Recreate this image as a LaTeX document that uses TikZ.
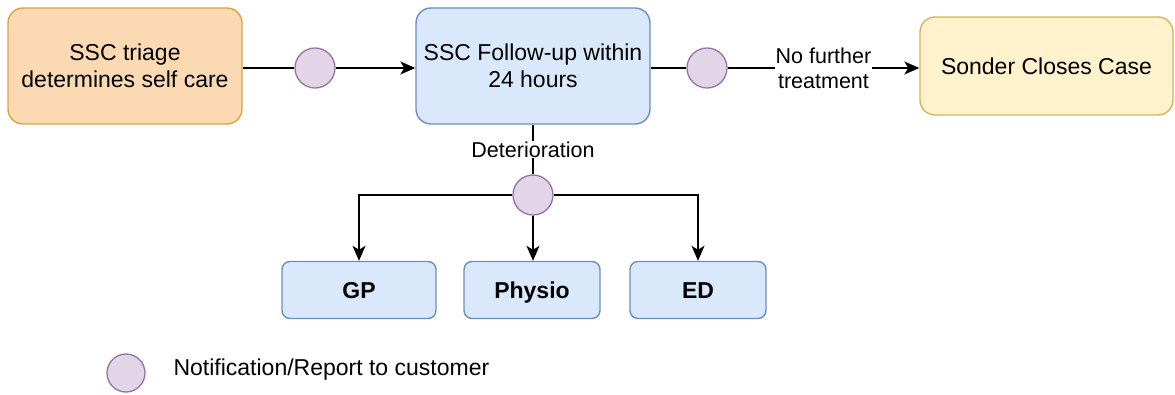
\documentclass[tikz,border=0pt]{standalone}
\usepackage{fontspec}
\setmainfont{Liberation Sans}
\usetikzlibrary{arrows.meta}
\definecolor{orfill}{HTML}{FAD9B3}
\definecolor{ordraw}{HTML}{D9A443}
\definecolor{blfill}{HTML}{DAE8FC}
\definecolor{bldraw}{HTML}{6C8EBF}
\definecolor{yefill}{HTML}{FFF2CC}
\definecolor{yedraw}{HTML}{D6B656}
\definecolor{cifill}{HTML}{E1D5E7}
\definecolor{cidraw}{HTML}{9673A6}
\tikzset{
  bigbox/.style={rounded corners=15pt, line width=1.4pt, align=center, inner sep=0pt,
    font=\fontsize{23}{27.5}\selectfont},
  smallbox/.style={rounded corners=8pt, line width=1.4pt, fill=blfill, draw=bldraw,
    minimum width=154pt, minimum height=57pt, inner sep=0pt, text height=16.5pt, text depth=0pt,
    font=\fontsize{23}{27}\selectfont\bfseries},
  notif/.style={circle, fill=cifill, draw=cidraw, line width=1.3pt, minimum size=40pt, inner sep=0pt},
  conn/.style={line width=1.6pt, draw=black},
  arr/.style={conn, -{Stealth[length=15pt, width=13pt, inset=4pt]}},
  lbl/.style={fill=white, inner sep=1pt, align=center, font=\fontsize{21.5}{25}\selectfont}
}
\begin{document}
\begin{tikzpicture}[x=1pt,y=-1pt]
\useasboundingbox (0,0) rectangle (1175,395);
\node[bigbox, fill=orfill, draw=ordraw, minimum width=234pt, minimum height=116pt] (triage) at (125,66) {SSC triage\\determines self care};
\node[bigbox, fill=blfill, draw=bldraw, minimum width=234pt, minimum height=116pt] (follow) at (533,66) {SSC Follow-up within\\24 hours};
\node[bigbox, fill=yefill, draw=yedraw, minimum width=253pt, minimum height=98pt] (sonder) at (1046.5,66) {Sonder Closes Case};
\node[notif] (c1) at (315,68) {};
\node[notif] (c2) at (707,68) {};
\node[notif] (c3) at (533,195) {};
\node[smallbox, minimum width=154pt] (gp) at (359,290) {GP};
\node[smallbox, minimum width=136pt] (physio) at (532,290) {Physio};
\node[smallbox, minimum width=136pt] (ed) at (698,290) {ED};
\node[notif, minimum size=38pt] (leg) at (126,373) {};
\node[anchor=west, font=\fontsize{23}{27}\selectfont] (legtxt) at (170,370) {Notification/Report to customer};

\draw[conn] (triage.east |- c1) -- (c1);
\draw[arr] (c1) -- (follow.west |- c1);
\draw[conn] (follow.east |- c2) -- (c2);
\draw[arr] (c2) -- node[lbl] (nft) {No further\\treatment} (sonder.west |- c2);
\draw[conn] (follow.south) -- node[lbl] (det) {Deterioration} (c3);
\draw[arr] (c3) -| (gp.north);
\draw[arr] (c3) -- (c3 |- physio.north);
\draw[arr] (c3) -| (ed.north);
\end{tikzpicture}
\end{document}
